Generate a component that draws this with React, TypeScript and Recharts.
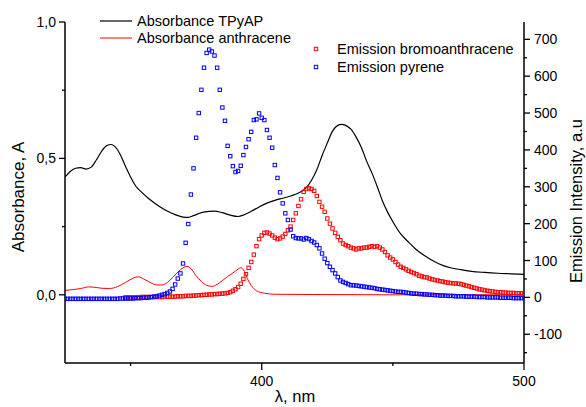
import { ComposedChart, Line, Scatter, XAxis, YAxis } from 'recharts';

const FONT = '"Liberation Sans", Arial, Helvetica, sans-serif';

// Absorbance TPyAP (nm, A)
const tpyapNm = [
  325, 327, 329, 331, 333, 335, 337, 339, 341, 342.5, 344, 346, 348, 350, 352, 354, 357, 361, 364, 367,
  370, 372, 374, 377, 380, 382, 385, 388, 391, 393, 396, 399, 402, 405, 408, 411, 414, 417, 419, 421,
  423, 425, 427, 429, 430.5, 432, 434, 436, 438, 440, 442, 444, 446, 448, 450, 453, 456, 459, 463, 466,
  469, 472, 476, 480, 485, 490, 495, 500,
];
const tpyapAbs = [
  0.431, 0.452, 0.464, 0.466, 0.461, 0.468, 0.495, 0.527, 0.547, 0.551, 0.544, 0.515, 0.472, 0.432, 0.398, 0.378, 0.352, 0.324, 0.307, 0.294,
  0.285, 0.284, 0.29, 0.301, 0.306, 0.307, 0.301, 0.292, 0.287, 0.292, 0.306, 0.322, 0.336, 0.346, 0.354, 0.362, 0.373, 0.393, 0.42, 0.458,
  0.51, 0.556, 0.6, 0.621, 0.625, 0.621, 0.607, 0.578, 0.54, 0.49, 0.447, 0.398, 0.345, 0.303, 0.268, 0.223, 0.193, 0.165, 0.138, 0.121,
  0.108, 0.099, 0.092, 0.086, 0.082, 0.079, 0.077, 0.075,
];

// Absorbance anthracene, red curve (nm, A)
const anthNm = [
  325, 328, 331, 334, 336, 339, 342, 345, 348, 351, 353, 355, 357.5, 360, 362, 364, 366, 368, 370, 371.5,
  373, 375, 377, 379, 381, 383, 385, 387, 389, 391, 392, 393, 394.5, 396, 398, 401, 405, 420, 450, 480, 500,
];
const anthAbs = [
  0.016, 0.019, 0.023, 0.029, 0.028, 0.024, 0.023, 0.03, 0.045, 0.061, 0.066, 0.058, 0.045, 0.036, 0.036, 0.045, 0.063, 0.083, 0.099, 0.104,
  0.096, 0.07, 0.049, 0.035, 0.031, 0.038, 0.052, 0.067, 0.08, 0.094, 0.099, 0.092, 0.06, 0.034, 0.015, 0.006, 0.002, 0.001, 0, 0, 0,
];

// Emission pyrene, one point per nm starting at 325 nm
const pyreneStart = 325;
const pyreneEm = [
  -4, -4, -4, -4, -4, -4, -4, -4, -4, -4, -4, -4, -4, -4, -4, -4, -4, -4, -4, -4,
  -4, -3, -3, -3, -3, -3, -3, -2, -2, -2, -1, -1, 0, 1, 2, 3, 5, 7, 9, 12,
  16, 23, 35, 51, 65, 92, 148, 199, 279, 350, 433, 500, 563, 623, 663, 672, 667, 656, 623, 563,
  515, 479, 411, 383, 356, 340, 343, 357, 386, 408, 429, 449, 481, 483, 499, 487, 481, 454, 433, 406,
  359, 324, 285, 255, 228, 210, 184, 166, 161, 160, 160, 157, 161, 158, 153, 149, 142, 133, 119, 105,
  93, 83, 74, 65, 55, 46, 42, 39, 36, 33, 33, 32, 31, 30, 29, 28, 27, 26, 25, 23,
  22, 21, 20, 19, 18, 17, 16, 15, 15, 14, 13, 12, 11, 10, 10, 9, 9, 8, 8, 7,
  7, 6, 6, 5, 5, 5, 4, 4, 4, 3, 3, 3, 3, 2, 2, 2, 2, 1, 1, 1,
  1, 0, 0, 0, 0, 0, -1, -1, -1, -1, -1, -2, -2, -2, -2, -2,
];

// Emission bromoanthracene, one point per nm starting at 348 nm
const bromoStart = 348;
const bromoEm = [
  0, 0, 0, 0, 0, 0, 1, 1, 1, 1, 1, 1, 1, 1, 1, 2, 2, 2, 2, 2,
  3, 3, 3, 4, 4, 4, 5, 5, 6, 6, 7, 7, 8, 8, 9, 9, 10, 10, 11, 12,
  14, 18, 22, 28, 37, 50, 63, 80, 96, 116, 139, 158, 168, 175, 176, 173, 168, 162, 158, 160,
  165, 172, 182, 192, 210, 228, 248, 266, 286, 294, 296, 294, 289, 275, 259, 246, 232, 214, 200, 187,
  175, 164, 155, 146, 142, 139, 135, 133, 130, 133, 133, 135, 135, 137, 139, 137, 139, 135, 130, 123,
  114, 108, 103, 96, 89, 83, 80, 76, 72, 69, 66, 63, 59, 57, 55, 54, 51, 49, 47, 46,
  44, 43, 41, 40, 39, 38, 38, 37, 36, 34, 32, 30, 28, 26, 24, 22, 21, 19, 18, 17,
  16, 15, 14, 14, 13, 13, 12, 12, 12, 11, 11, 11, 11,
];

const xTicks = [350, 400, 450, 500];
const xLabels = [400, 500];
const absTicks = [0, 0.25, 0.5, 0.75, 1];
const absLabels = [0, 0.5, 1];
const emTicks = [-150, -100, -50, 0, 50, 100, 150, 200, 250, 300, 350, 400, 450, 500, 550, 600, 650, 700];
const emLabels = [-100, 0, 100, 200, 300, 400, 500, 600, 700];

const pairs = (xs: number[], ys: number[]) => xs.map((x, i) => ({ x, y: ys[i] }));
const series = (start: number, ys: number[]) => ys.map((y, i) => ({ x: start + i, y }));

const tpyapData = pairs(tpyapNm, tpyapAbs);
const anthData = pairs(anthNm, anthAbs);
const pyreneData = series(pyreneStart, pyreneEm);
const bromoData = series(bromoStart, bromoEm);

const hollowSquare = (color: string) => (props: any) => (
  <rect x={props.cx - 1.7} y={props.cy - 1.7} width={3.4} height={3.4} fill="none" stroke={color} strokeWidth={1} />
);

function LeftTick({ x, y, payload }: any) {
  const major = absLabels.includes(payload.value);
  return (
    <g>
      <line x1={x - (major ? 6 : 3)} x2={x} y1={y} y2={y} stroke="#000" strokeWidth={1.3} />
      {major && (
        <text x={x - 9} y={y + 5} textAnchor="end" fontSize={14} fontFamily={FONT} fill="#000">
          {payload.value.toFixed(1).replace('.', ',')}
        </text>
      )}
    </g>
  );
}

function RightTick({ x, y, payload }: any) {
  const major = emLabels.includes(payload.value);
  return (
    <g>
      <line x1={x} x2={x + (major ? 6 : 3)} y1={y} y2={y} stroke="#000" strokeWidth={1.3} />
      {major && (
        <text x={x + 10} y={y + 5} textAnchor="start" fontSize={14} fontFamily={FONT} fill="#000">
          {payload.value}
        </text>
      )}
    </g>
  );
}

function BottomTick({ x, y, payload }: any) {
  const major = xLabels.includes(payload.value);
  return (
    <g>
      <line x1={x} x2={x} y1={y} y2={y + (major ? 7 : 3)} stroke="#000" strokeWidth={1.3} />
      {major && (
        <text x={x} y={y + 23} textAnchor="middle" fontSize={14} fontFamily={FONT} fill="#000">
          {payload.value}
        </text>
      )}
    </g>
  );
}

const axisLine = { stroke: '#000', strokeWidth: 1.5 };

export default function App() {
  return (
    <div style={{ position: 'absolute', left: 0, top: 0, width: 586, height: 407, background: '#fff' }}>
      <ComposedChart width={586} height={407} margin={{ top: 22, right: 0, bottom: 0, left: 0 }}>
        <XAxis
          type="number"
          dataKey="x"
          domain={[325, 500]}
          allowDataOverflow
          ticks={xTicks}
          interval={0}
          height={44}
          tickSize={0}
          tickMargin={0}
          tickLine={false}
          axisLine={axisLine}
          tick={BottomTick}
        />
        <YAxis
          yAxisId="abs"
          type="number"
          dataKey="y"
          domain={[-0.25, 1]}
          allowDataOverflow
          ticks={absTicks}
          interval={0}
          width={65}
          tickSize={0}
          tickMargin={0}
          tickLine={false}
          axisLine={axisLine}
          tick={LeftTick}
        />
        <YAxis
          yAxisId="em"
          orientation="right"
          type="number"
          dataKey="y"
          domain={[-178, 747]}
          allowDataOverflow
          ticks={emTicks}
          interval={0}
          width={62}
          tickSize={0}
          tickMargin={0}
          tickLine={false}
          axisLine={axisLine}
          tick={RightTick}
        />
        <Line yAxisId="abs" data={tpyapData} dataKey="y" type="monotone" stroke="#000" strokeWidth={1.2} dot={false} activeDot={false} isAnimationActive={false} />
        <Line yAxisId="abs" data={anthData} dataKey="y" type="monotone" stroke="#ff0000" strokeWidth={1} dot={false} activeDot={false} isAnimationActive={false} />
        <Scatter yAxisId="em" data={bromoData} dataKey="y" shape={hollowSquare('#ff0000')} isAnimationActive={false} />
        <Scatter yAxisId="em" data={pyreneData} dataKey="y" shape={hollowSquare('#0000ff')} isAnimationActive={false} />
      </ComposedChart>
      <svg width={586} height={407} style={{ position: 'absolute', left: 0, top: 0, pointerEvents: 'none' }}>
        <g fontFamily={FONT} fill="#000">
          <line x1={100} x2={132} y1={21} y2={21} stroke="#000" strokeWidth={1.2} />
          <text x={137} y={26} fontSize={14.5}>Absorbance TPyAP</text>
          <line x1={100} x2={132} y1={38} y2={38} stroke="#ff0000" strokeWidth={1} />
          <text x={137} y={43} fontSize={14.5}>Absorbance anthracene</text>
          <rect x={314.3} y={47.3} width={3.4} height={3.4} fill="none" stroke="#ff0000" strokeWidth={1} />
          <text x={337} y={54} fontSize={14.5}>Emission bromoanthracene</text>
          <rect x={314.3} y={65.3} width={3.4} height={3.4} fill="none" stroke="#0000ff" strokeWidth={1} />
          <text x={337} y={72} fontSize={14.5}>Emission pyrene</text>
          <text x={295} y={402} fontSize={16.5} textAnchor="middle">λ, nm</text>
          <text transform="translate(24,197) rotate(-90)" fontSize={17} textAnchor="middle">Absorbance, A</text>
          <text transform="translate(582,201) rotate(-90)" fontSize={16.5} textAnchor="middle">Emission Intensity, a.u</text>
        </g>
      </svg>
    </div>
  );
}
